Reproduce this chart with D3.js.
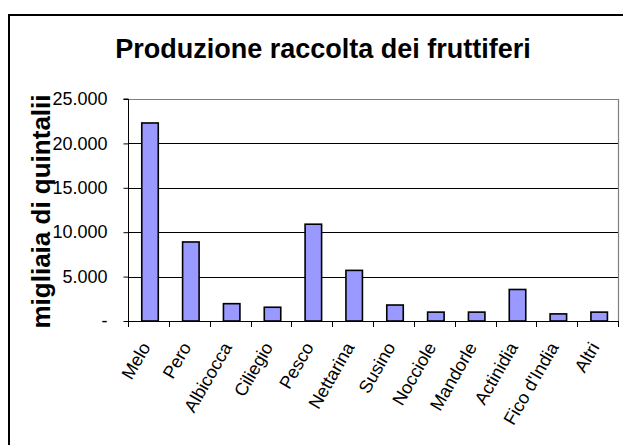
<!DOCTYPE html>
<html>
<head>
<meta charset="utf-8">
<script src="https://cdn.jsdelivr.net/npm/d3@7"></script>
<style>
  html, body { margin: 0; padding: 0; background: #fff; }
  svg { display: block; }
  text { font-family: "Liberation Sans", Arial, sans-serif; fill: #000; }
</style>
</head>
<body>
<svg id="chart" width="623" height="445"></svg>
<script>
const categories = ["Melo", "Pero", "Albicocca", "Ciliegio", "Pesco", "Nettarina", "Susino", "Nocciole", "Mandorle", "Actinidia", "Fico d'India", "Altri"];
const values = [22300, 8900, 1950, 1550, 10900, 5700, 1800, 1000, 1000, 3550, 800, 1000];
const yTicks = [0, 5000, 10000, 15000, 20000, 25000];
const yTickLabels = ["-", "5.000", "10.000", "15.000", "20.000", "25.000"];
const titleText = "Produzione raccolta dei fruttiferi";
const yAxisTitle = "migliaia di quintalii";

const svg = d3.select("#chart");
const W = 623, H = 445;
const plot = { left: 128, right: 618, top: 99, bottom: 321 };

svg.append("rect")
  .attr("x", 9).attr("y", 15)
  .attr("width", W + 20).attr("height", H + 20)
  .attr("fill", "#fff").attr("stroke", "#000").attr("stroke-width", 2);

const xCat = d3.scaleBand().domain(categories).range([plot.left, plot.right]);
const y = d3.scaleLinear().domain([0, 25000]).range([plot.bottom, plot.top]);

svg.append("g").selectAll("line").data(yTicks.filter(t => t > 0 && t < 25000)).join("line")
  .attr("x1", plot.left).attr("x2", plot.right)
  .attr("y1", d => Math.round(y(d)) + 0.5).attr("y2", d => Math.round(y(d)) + 0.5)
  .attr("stroke", "#000").attr("stroke-width", 1);

svg.append("path")
  .attr("d", `M${plot.left},${plot.top + 0.5}H${plot.right + 0.5}V${plot.bottom}`)
  .attr("fill", "none").attr("stroke", "#808080").attr("stroke-width", 1.2);

const barW = 16.5;
svg.append("g").selectAll("rect").data(categories).join("rect")
  .attr("x", d => xCat(d) + (xCat.bandwidth() - barW) / 2 + 1.6)
  .attr("width", barW)
  .attr("y", (d, i) => y(values[i]))
  .attr("height", (d, i) => y(0) - y(values[i]))
  .attr("fill", "#9999ff").attr("stroke", "#000").attr("stroke-width", 1.6);

const yAxis = d3.axisLeft(y).tickValues(yTicks).tickSize(5).tickPadding(16)
  .tickFormat((d, i) => yTickLabels[i]);
const gy = svg.append("g").attr("transform", `translate(${plot.left + 0.5},0)`).call(yAxis);
gy.attr("font-size", 18);
gy.select(".domain").attr("stroke", "#000").attr("d", `M-5,${plot.top}H0V${plot.bottom}`);
gy.selectAll(".tick line").attr("stroke", "#000");
gy.selectAll(".tick text").attr("font-size", 18).style("font-size", "18px").attr("fill", "#000");

const boundaries = categories.map(c => xCat(c)).concat([plot.right]);
svg.append("line").attr("x1", plot.left).attr("x2", plot.right + 1)
  .attr("y1", plot.bottom + 0.5).attr("y2", plot.bottom + 0.5)
  .attr("stroke", "#000").attr("stroke-width", 1.2);
svg.append("g").selectAll("line").data(boundaries).join("line")
  .attr("x1", d => Math.round(d) + 0.5).attr("x2", d => Math.round(d) + 0.5)
  .attr("y1", plot.bottom).attr("y2", plot.bottom + 6)
  .attr("stroke", "#000");

svg.append("g").selectAll("text").data(categories).join("text")
  .attr("transform", d => `translate(${xCat(d) + xCat.bandwidth() / 2 + 2.5},${plot.bottom + 26}) rotate(-60)`)
  .attr("text-anchor", "end")
  .style("font-size", "18px")
  .text(d => d);

svg.append("text")
  .attr("x", 323).attr("y", 58)
  .attr("text-anchor", "middle")
  .style("font-size", "27px").style("font-weight", "bold")
  .text(titleText);

svg.append("text")
  .attr("transform", `translate(50,211.5) rotate(-90)`)
  .attr("text-anchor", "middle")
  .style("font-size", "26px").style("font-weight", "bold")
  .text(yAxisTitle);
</script>
</body>
</html>
